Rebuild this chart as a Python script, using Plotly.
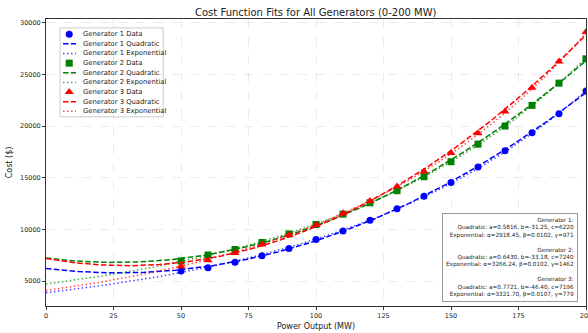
import numpy as np
import plotly.graph_objects as go

# ---- data ----
power_mw = [50, 60, 70, 80, 90, 100, 110, 120, 130, 140, 150, 160, 170, 180, 190, 200]
gen1_cost = [5980, 6310, 6830, 7470, 8150, 9030, 9860, 10900, 12000, 13200, 14550, 16050, 17600, 19350, 21200, 23400]
gen2_cost = [6950, 7530, 8060, 8740, 9570, 10480, 11480, 12580, 13750, 15100, 16550, 18250, 20000, 22000, 24150, 26500]
gen3_cost = [6450, 7020, 7730, 8540, 9470, 10420, 11580, 12750, 14150, 15600, 17400, 19300, 21400, 23700, 26250, 29100]

# fitted parameters (shown in the annotation box)
quad_a = [0.5816, 0.6430, 0.7721]
quad_b = [-31.25, -33.18, -46.40]
quad_c = [6220, 7240, 7196]
exp_alpha = [2918.45, 3266.24, 3321.70]
exp_beta = [0.0102, 0.0102, 0.0107]
exp_gamma = [971, 1462, 779]

x_ticks = [0, 25, 50, 75, 100, 125, 150, 175, 200]
y_ticks = [5000, 10000, 15000, 20000, 25000, 30000]

names = ["Generator 1", "Generator 2", "Generator 3"]
colors = ["#0000ff", "#008000", "#ff0000"]
symbols = ["circle", "square", "triangle-up"]
marker_sizes = [7, 7, 8]
data_sets = [gen1_cost, gen2_cost, gen3_cost]

FONT = "DejaVu Sans"
DASH = "5.5px,2.4px"
DOT = "1.5px,2.5px"
EXP_ALPHA = 0.7

x_fit = np.linspace(0, 200, 201)

fig = go.Figure()
for i in range(3):
    fig.add_trace(go.Scatter(
        x=power_mw, y=data_sets[i], mode="markers", name=f"{names[i]} Data", showlegend=False,
        marker=dict(symbol=symbols[i], color=colors[i], size=marker_sizes[i])))
    yq = quad_a[i] * x_fit**2 + quad_b[i] * x_fit + quad_c[i]
    fig.add_trace(go.Scatter(
        x=x_fit, y=yq, mode="lines", name=f"{names[i]} Quadratic", showlegend=False,
        line=dict(color=colors[i], dash=DASH, width=1.5)))
    ye = exp_alpha[i] * np.exp(exp_beta[i] * x_fit) + exp_gamma[i]
    fig.add_trace(go.Scatter(
        x=x_fit, y=ye, mode="lines", name=f"{names[i]} Exponential", showlegend=False,
        opacity=EXP_ALPHA, line=dict(color=colors[i], dash=DOT, width=1.5)))

# ---- compact legend (drawn in paper-like overlay axes) ----
leg_x0, leg_x1, leg_y0, leg_y1 = 0.026, 0.217, 0.659, 0.969
row_top, row_step = 0.947, 0.0336
sym_x, line_x0, line_x1, text_x = 0.043, 0.0315, 0.0556, 0.064
fig.add_shape(type="rect", xref="paper", yref="paper", x0=leg_x0, x1=leg_x1, y0=leg_y0, y1=leg_y1,
              line=dict(color="#cccccc", width=1), fillcolor="rgba(255,255,255,0.85)", layer="between")
row = 0
for i in range(3):
    entries = [("Data", None), ("Quadratic", DASH), ("Exponential", DOT)]
    for label, dash in entries:
        yy = row_top - row * row_step
        if dash is None:
            fig.add_trace(go.Scatter(x=[sym_x], y=[yy], mode="markers", xaxis="x2", yaxis="y2",
                                     showlegend=False, hoverinfo="skip",
                                     marker=dict(symbol=symbols[i], color=colors[i], size=marker_sizes[i])))
        else:
            fig.add_trace(go.Scatter(x=[line_x0, line_x1], y=[yy, yy], mode="lines", xaxis="x2", yaxis="y2",
                                     showlegend=False, hoverinfo="skip",
                                     opacity=EXP_ALPHA if label == "Exponential" else 1,
                                     line=dict(color=colors[i], dash=dash, width=1.5)))
        fig.add_annotation(xref="paper", yref="paper", x=text_x, y=yy, xanchor="left", yanchor="middle",
                           text=f"{names[i]} {label}", showarrow=False,
                           font=dict(family=FONT, size=6.8, color="#222222"))
        row += 1

# ---- parameter box ----
lines = []
for i in range(3):
    lines.append(f"{names[i]}:")
    lines.append(f"Quadratic: a={quad_a[i]:.4f}, b={quad_b[i]:.2f}, c={quad_c[i]:.0f}")
    lines.append(f"Exponential: α={exp_alpha[i]:.2f}, β={exp_beta[i]:.4f}, γ={exp_gamma[i]:.0f}")
    if i < 2:
        lines.append(" ")
box_text = "<br>".join(lines)

fig.add_annotation(
    xref="paper", yref="paper", x=0.985, y=0.014, xanchor="right", yanchor="bottom",
    text=box_text, showarrow=False, align="right",
    font=dict(family=FONT, size=5.7, color="#222222"),
    bgcolor="rgba(255,255,255,0.9)", bordercolor="#999999", borderwidth=1, borderpad=3)

axis_common = dict(
    showline=True, linecolor="#333333", linewidth=1, mirror=True,
    ticks="outside", ticklen=3, tickcolor="#333333",
    showgrid=True, gridcolor="rgba(0,0,0,0.08)", griddash="dash", gridwidth=0.6,
    zeroline=False, ticklabeloverflow="allow", automargin=False,
    tickfont=dict(family=FONT, size=6.5, color="#222222"))

fig.update_layout(
    width=588, height=333,
    margin=dict(l=46, r=2, t=19, b=27),
    paper_bgcolor="white", plot_bgcolor="white",
    title=dict(text="Cost Function Fits for All Generators (0-200 MW)", x=0.537, xanchor="center",
               y=0.962, yanchor="middle", font=dict(family=FONT, size=10, color="#222222")),
    xaxis=dict(range=[0, 200], tickvals=x_ticks,
               title=dict(text="Power Output (MW)", standoff=4,
                          font=dict(family=FONT, size=8, color="#222222")),
               **axis_common),
    yaxis=dict(range=[2600, 30350], tickvals=y_ticks, tickformat="d",
               title=dict(text="Cost ($)", standoff=6,
                          font=dict(family=FONT, size=8, color="#222222")),
               **axis_common),
    xaxis2=dict(overlaying="x", range=[0, 1], visible=False),
    yaxis2=dict(overlaying="y", range=[0, 1], visible=False),
    showlegend=False,
)

fig.write_html("out.html", config={"displayModeBar": False},
               post_script="document.body.style.margin='0';document.body.style.overflow='hidden';")
